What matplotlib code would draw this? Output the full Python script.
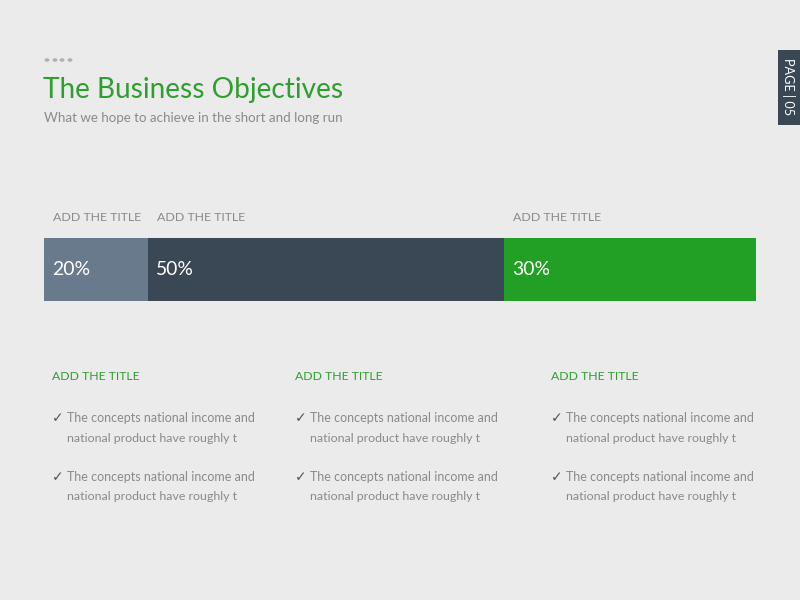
import matplotlib
matplotlib.use("Agg")
import matplotlib.pyplot as plt
from matplotlib.patches import Rectangle, Circle

# ---- data ----
segment_labels = ["ADD THE TITLE", "ADD THE TITLE", "ADD THE TITLE"]
segment_values = ["20%", "50%", "30%"]
segment_widths = [14.6, 50.0, 35.4]   # visual share of bar as drawn
segment_colors = ["#687a8c", "#3a4856", "#22a025"]

title = "The Business Objectives"
subtitle = "What we hope to achieve in the short and long run"
column_titles = ["ADD THE TITLE", "ADD THE TITLE", "ADD THE TITLE"]
bullet_text = ["The concepts national income and\nnational product have roughly t",
               "The concepts national income and\nnational product have roughly t"]
page_label = "PAGE | 05"

BG = "#ebebeb"
GREEN = "#2e9e2e"
GREY = "#8a8a8a"
FONT = ["Lato", "DejaVu Sans"]

fig = plt.figure(figsize=(8, 6), dpi=100, facecolor=BG)
renderer = fig.canvas.get_renderer()


def fx(px):
    return px / 800.0


def fy(py):
    return 1 - py / 600.0


def fit(t, target, axis="w"):
    """Scale a text's font size so its extent matches target pixels."""
    for _ in range(3):
        bb = t.get_window_extent(renderer=renderer)
        cur = bb.width if axis == "w" else bb.height
        if cur <= 0:
            break
        t.set_fontsize(t.get_fontsize() * target / cur)
    return t


def ftext(x, y, s, target, axis="w", **kw):
    t = fig.text(fx(x), fy(y), s, family=FONT, va="center", ha="left", **kw)
    return fit(t, target, axis)


# decorative dots
for x in [47, 55, 62, 70]:
    fig.patches.append(Circle((fx(x), fy(60)), 0.003, transform=fig.transFigure,
                              facecolor="#b0b0b0", edgecolor="none"))

ftext(43, 90, title, 300, color=GREEN, fontsize=24)
ftext(44, 118, subtitle, 303, color=GREY, fontsize=11)

# page tab
fig.patches.append(Rectangle((fx(778), fy(125)), fx(22), 75 / 600.0,
                             transform=fig.transFigure, facecolor="#3a4856",
                             edgecolor="none"))
pt = fig.text(fx(789), fy(87), page_label, color="white", fontsize=7, family=FONT,
              rotation=-90, va="center", ha="center")
fit(pt, 57, axis="h")

# stacked bar
ax = fig.add_axes([fx(44), fy(301), fx(712), 63 / 600.0])
ax.set_facecolor(BG)
total = sum(segment_widths)
left = 0.0
for lab, val, w, c in zip(segment_labels, segment_values, segment_widths, segment_colors):
    ax.barh(0, w, left=left, height=1.0, color=c, edgecolor="none")
    tv = ax.text(left + 1.15, 0, val, color="white", fontsize=15, family=FONT,
                 va="center", ha="left")
    fit(tv, 38)
    tl = ax.text(left + 1.25, 0.77, lab, color=GREY, fontsize=11, family=FONT,
                 va="baseline", ha="left", clip_on=False)
    fit(tl, 88)
    left += w
ax.set_xlim(0, total)
ax.set_ylim(-0.5, 0.5)
ax.axis("off")

# columns
col_x = [52, 295, 551]
bullet_y = [(418, 439), (477, 497)]
for cx, ct in zip(col_x, column_titles):
    ftext(cx, 377, ct, 88, color=GREEN, fontsize=12)
    for (y1, y2), bt in zip(bullet_y, bullet_text):
        l1, l2 = bt.split("\n")
        fig.text(fx(cx), fy(y1), "\u2713", color="#555555", fontsize=10,
                 family=["DejaVu Sans"], va="center", ha="left")
        ftext(cx + 15, y1, l1, 189, color=GREY, fontsize=11)
        ftext(cx + 15, y2, l2, 170, color=GREY, fontsize=11)

fig.savefig("out.png", dpi=100, facecolor=BG)
